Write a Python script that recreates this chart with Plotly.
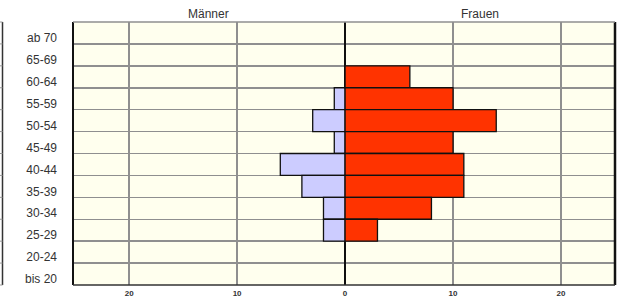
import plotly.graph_objects as go

age_groups = ["ab 70", "65-69", "60-64", "55-59", "50-54", "45-49",
              "40-44", "35-39", "30-34", "25-29", "20-24", "bis 20"]
maenner = [0, 0, 0, 1, 3, 1, 6, 4, 2, 2, 0, 0]
frauen = [0, 0, 6, 10, 14, 10, 11, 11, 8, 3, 0, 0]
x_tickvals = [-20, -10, 0, 10, 20]
x_ticktext = ["20", "10", "0", "10", "20"]

W, H = 620, 299
L, R, T, B = 73, 5, 22, 14
pw = W - L - R

fig = go.Figure()
fig.add_trace(go.Bar(
    y=age_groups, x=[-v for v in maenner], orientation="h", name="Männer",
    marker=dict(color="#CCCCFF", line=dict(color="#111111", width=1.3)),
    width=1, showlegend=False,
))
fig.add_trace(go.Bar(
    y=age_groups, x=frauen, orientation="h", name="Frauen",
    marker=dict(color="#FF3300", line=dict(color="#111111", width=1.3)),
    width=1, showlegend=False,
))

fig.update_layout(
    width=W, height=H,
    margin=dict(l=L, r=R, t=T, b=B, pad=0, autoexpand=False),
    paper_bgcolor="white",
    plot_bgcolor="#FFFFEE",
    barmode="overlay",
    bargap=0,
    font=dict(family="Liberation Sans, Arial, sans-serif", color="#333333"),
    xaxis=dict(
        range=[-25.2, 25], tickvals=x_tickvals, ticktext=x_ticktext,
        showgrid=True, gridcolor="#8f8f8f", gridwidth=1.5,
        zeroline=True, zerolinecolor="#111111", zerolinewidth=1.5,
        tickfont=dict(size=8, color="#333333", family="Liberation Sans, Arial, sans-serif", weight="bold"),
        ticks="", ticklabelstandoff=2, fixedrange=True,
        showline=False, automargin=False,
    ),
    yaxis=dict(
        type="category", categoryorder="array", categoryarray=age_groups,
        autorange="reversed", tickson="boundaries",
        showgrid=True, gridcolor="#8f8f8f", gridwidth=1.5,
        ticks="", ticklabelstandoff=15, ticklabelshift=-5,
        tickfont=dict(size=12, color="#333333"),
        showline=False, fixedrange=True, automargin=False,
    ),
    annotations=[
        dict(text="Männer", x=0.25, y=1, xref="paper", yref="paper",
             xanchor="center", yanchor="bottom", yshift=-1, showarrow=False,
             font=dict(size=12, color="#333333")),
        dict(text="Frauen", x=(480 - L) / pw, y=1, xref="paper", yref="paper",
             xanchor="center", yanchor="bottom", yshift=-1, showarrow=False,
             font=dict(size=12, color="#333333")),
    ],
)

shapes = []
# plot frame
shapes.append(dict(type="line", xref="paper", yref="paper", x0=0, x1=0, y0=0, y1=1,
                   line=dict(color="#111111", width=2)))
shapes.append(dict(type="line", xref="paper", yref="paper", x0=1, x1=1, y0=0, y1=1,
                   line=dict(color="#111111", width=2.5)))
shapes.append(dict(type="line", xref="paper", yref="paper", x0=0, x1=1, y0=0, y1=0,
                   line=dict(color="#333333", width=1.5)))
shapes.append(dict(type="line", xref="paper", yref="paper", x0=0, x1=1, y0=1, y1=1,
                   line=dict(color="#8f8f8f", width=1.5)))
# cut-off frame at the very left edge
xl = (2.5 - L) / pw
shapes.append(dict(type="line", xref="paper", yref="paper", x0=xl, x1=xl, y0=0, y1=1,
                   line=dict(color="#333333", width=1.5)))
for i in range(13):
    shapes.append(dict(type="line", xref="paper", yref="paper",
                       x0=(0 - L) / pw, x1=xl, y0=i / 12, y1=i / 12,
                       line=dict(color="#999999", width=1)))
fig.update_layout(shapes=shapes)

fig.write_html(
    "out.html",
    config={"displayModeBar": False, "staticPlot": True},
    post_script="document.body.style.margin='0';document.body.style.overflow='hidden';",
)
